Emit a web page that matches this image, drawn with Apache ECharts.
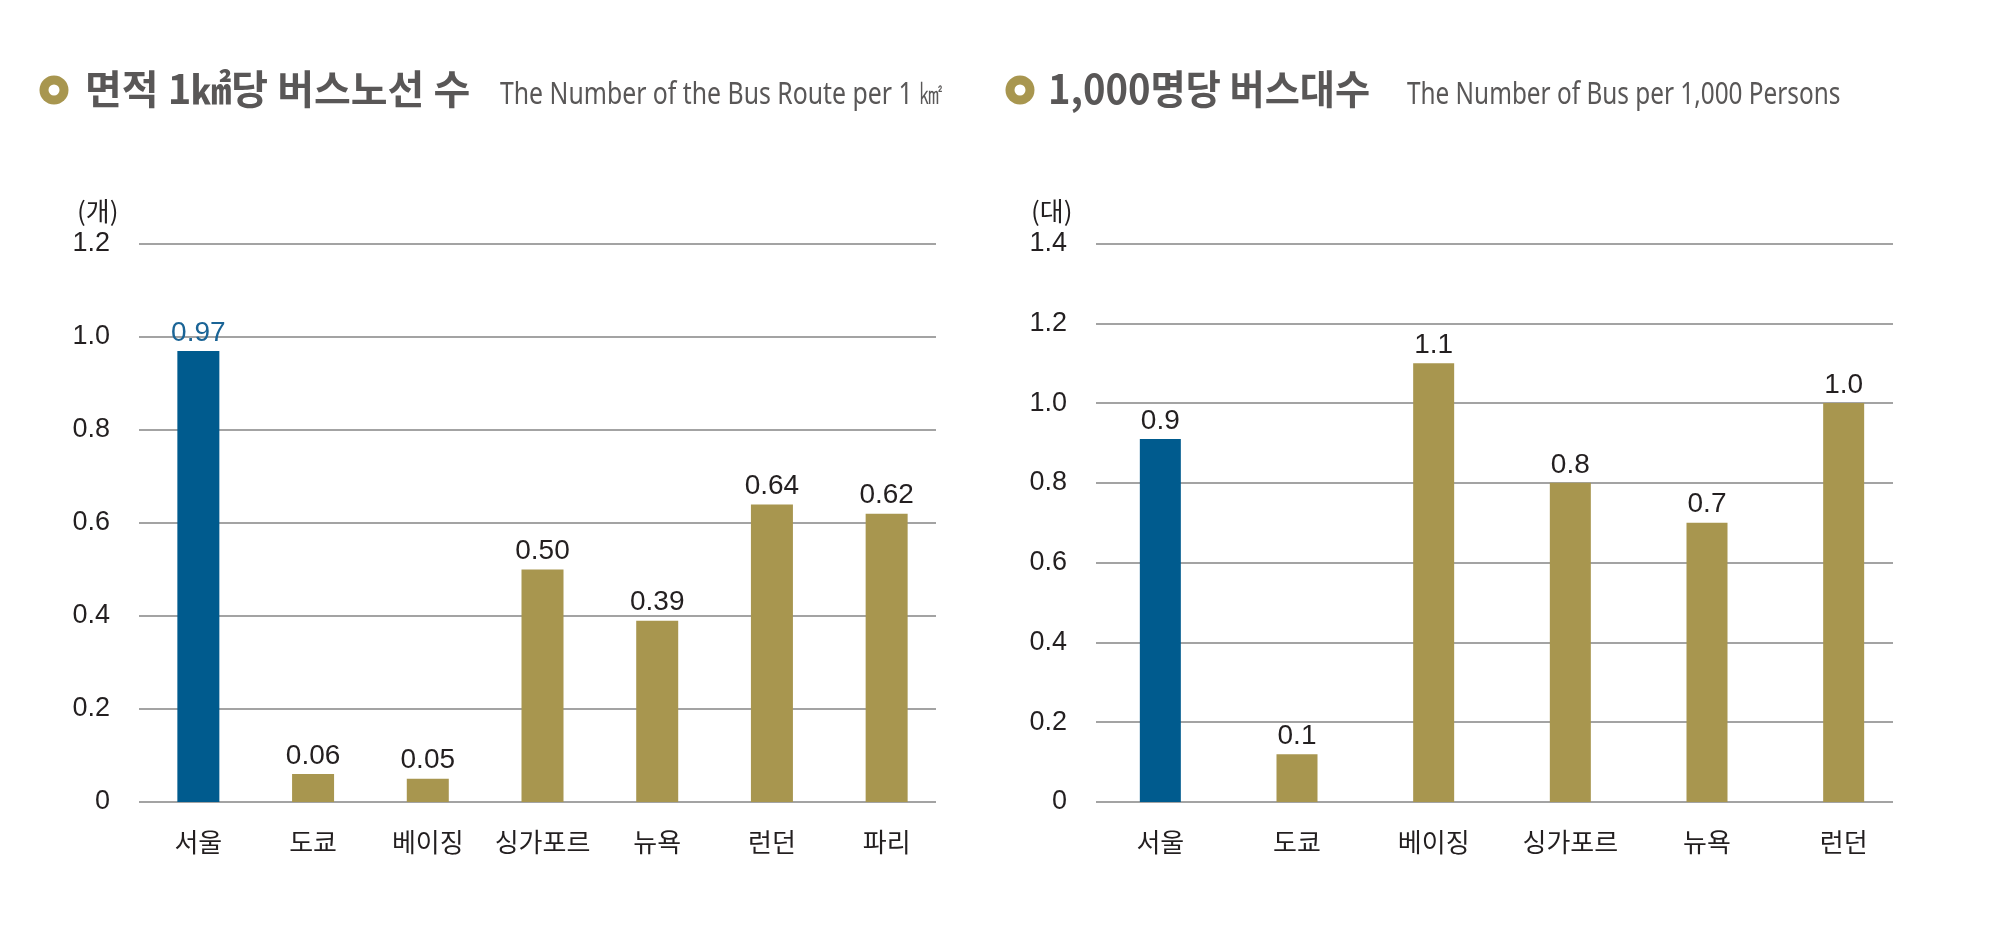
<!DOCTYPE html>
<html>
<head>
<meta charset="utf-8">
<script src="https://cdn.jsdelivr.net/npm/echarts@6/dist/echarts.min.js"></script>
<style>
html,body{margin:0;padding:0;background:#fff;}
#chart{width:2000px;height:936px;}
</style>
</head>
<body>
<div id="chart"></div>
<script>
// ---- data ----
var leftTitle = '면적 1㎢당 버스노선 수';
var leftSubtitle = 'The Number of the Bus Route per 1 ㎢';
var leftUnit = '(개)';
var leftCities = ['서울', '도쿄', '베이징', '싱가포르', '뉴욕', '런던', '파리'];
var leftValues = [0.97, 0.06, 0.05, 0.50, 0.39, 0.64, 0.62];

var rightTitle = '1,000명당 버스대수';
var rightSubtitle = 'The Number of Bus per 1,000 Persons';
var rightUnit = '(대)';
var rightCities = ['서울', '도쿄', '베이징', '싱가포르', '뉴욕', '런던'];
var rightValues = [0.91, 0.12, 1.10, 0.80, 0.70, 1.00];

// ---- styles ----
var BLUE = '#005b8e';
var BLUE_TXT = '#1a6496';
var GOLD = '#a8964f';
var DARK = '#231f20';
var GRID = '#a3a3a3';
var TITLE = '#595757';
var KFONT = '"Noto Sans CJK KR", "Noto Sans", sans-serif';
var NFONT = '"Liberation Sans", Arial, sans-serif';

function barData(vals, blueLabel) {
  return vals.map(function (v, i) {
    return {
      value: v,
      itemStyle: { color: i === 0 ? BLUE : GOLD },
      label: { color: (i === 0 && blueLabel) ? BLUE_TXT : DARK }
    };
  });
}

function tickFmt(v) { return v === 0 ? '0' : v.toFixed(1); }

var chart = echarts.init(document.getElementById('chart'), null, { renderer: 'canvas' });

var option = {
  backgroundColor: '#ffffff',
  animation: false,
  grid: [
    { left: 139, top: 244, width: 797, height: 558 },   // 0 left lines
    { left: 141, top: 244, width: 803, height: 558 },   // 1 left bars
    { left: 1096, top: 243.5, width: 797, height: 558.5 }, // 2 right lines
    { left: 1092, top: 243.5, width: 820, height: 558.5 }  // 3 right bars
  ],
  xAxis: [
    { gridIndex: 0, type: 'value', show: false },
    { gridIndex: 1, type: 'category', data: leftCities,
      axisLine: { show: false }, axisTick: { show: false },
      axisLabel: { color: DARK, fontSize: 26, fontFamily: KFONT, margin: 27, interval: 0 } },
    { gridIndex: 2, type: 'value', show: false },
    { gridIndex: 3, type: 'category', data: rightCities,
      axisLine: { show: false }, axisTick: { show: false },
      axisLabel: { color: DARK, fontSize: 26, fontFamily: KFONT, margin: 27, interval: 0 } }
  ],
  yAxis: [
    { gridIndex: 0, type: 'value', min: 0, max: 1.2, interval: 0.2,
      axisLine: { show: false }, axisTick: { show: false },
      splitLine: { show: true, lineStyle: { color: GRID, width: 2 } },
      axisLabel: { color: DARK, fontSize: 27, fontFamily: NFONT, margin: 29, formatter: tickFmt } },
    { gridIndex: 1, type: 'value', min: 0, max: 1.2, show: false, splitLine: { show: false } },
    { gridIndex: 2, type: 'value', min: 0, max: 1.4, interval: 0.2,
      axisLine: { show: false }, axisTick: { show: false },
      splitLine: { show: true, lineStyle: { color: GRID, width: 2 } },
      axisLabel: { color: DARK, fontSize: 27, fontFamily: NFONT, margin: 29, formatter: tickFmt } },
    { gridIndex: 3, type: 'value', min: 0, max: 1.4, show: false, splitLine: { show: false } }
  ],
  series: [
    { type: 'bar', xAxisIndex: 1, yAxisIndex: 1, barWidth: 42, z: 3,
      data: barData(leftValues, true),
      label: { show: true, position: 'top', distance: 4, fontSize: 28, fontFamily: NFONT,
        formatter: function (p) { return p.value.toFixed(2); } } },
    { type: 'bar', xAxisIndex: 3, yAxisIndex: 3, barWidth: 41, z: 3,
      data: barData(rightValues, false),
      label: { show: true, position: 'top', distance: 4, fontSize: 28, fontFamily: NFONT,
        formatter: function (p) { return p.value.toFixed(1); } } }
  ],
  graphic: [
    { type: 'circle', shape: { cx: 54, cy: 90, r: 14.5 }, style: { fill: GOLD } },
    { type: 'circle', shape: { cx: 54, cy: 90, r: 5.5 }, style: { fill: '#fff' } },
    { type: 'text', x: 85, y: 89,
      style: { text: leftTitle, fontSize: 40, fontWeight: 'bold', fontFamily: KFONT, fill: TITLE, verticalAlign: 'middle' } },
    { type: 'text', x: 500, y: 95, scaleX: 0.8, originX: 0,
      style: { text: leftSubtitle, fontSize: 31, fontFamily: '"Noto Sans", sans-serif', fill: TITLE, verticalAlign: 'middle' } },
    { type: 'text', x: 77, y: 211,
      style: { text: leftUnit, fontSize: 26, fontFamily: KFONT, fill: DARK, verticalAlign: 'middle' } },

    { type: 'circle', shape: { cx: 1020, cy: 90, r: 14.5 }, style: { fill: GOLD } },
    { type: 'circle', shape: { cx: 1020, cy: 90, r: 5.5 }, style: { fill: '#fff' } },
    { type: 'text', x: 1048, y: 89, scaleX: 0.955, originX: 0,
      style: { text: rightTitle, fontSize: 40, fontWeight: 'bold', fontFamily: KFONT, fill: TITLE, verticalAlign: 'middle' } },
    { type: 'text', x: 1407, y: 95, scaleX: 0.785, originX: 0,
      style: { text: rightSubtitle, fontSize: 31, fontFamily: '"Noto Sans", sans-serif', fill: TITLE, verticalAlign: 'middle' } },
    { type: 'text', x: 1031, y: 211,
      style: { text: rightUnit, fontSize: 26, fontFamily: KFONT, fill: DARK, verticalAlign: 'middle' } }
  ]
};

chart.setOption(option);
</script>
</body>
</html>
